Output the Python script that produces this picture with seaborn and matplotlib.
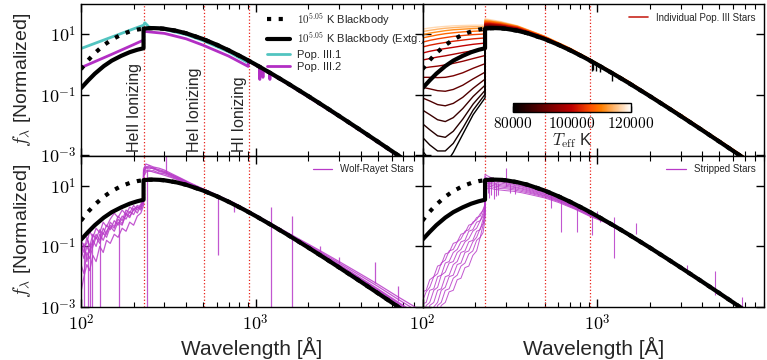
import numpy as np
import matplotlib
matplotlib.use("Agg")
import matplotlib.pyplot as plt
import seaborn as sns
from matplotlib.ticker import FuncFormatter, LogLocator, NullFormatter, NullLocator, FixedLocator
from matplotlib.lines import Line2D
from matplotlib.colors import Normalize
from matplotlib.cm import ScalarMappable

# ---------------- data: log10 of normalized f_lambda ----------------
BB_WAVE = [100, 110, 120, 135, 150, 170, 190, 210, 228, 245, 260, 280, 300, 350, 400, 500, 600,
           700, 850, 1000, 1250, 1500, 2000, 2500, 3000, 4000, 5000, 6000, 7000, 9000]
BB_LOG = [-0.151, 0.148, 0.381, 0.641, 0.825, 0.990, 1.093, 1.155, 1.187, 1.201, 1.204, 1.197,
          1.182, 1.117, 1.033, 0.843, 0.652, 0.472, 0.224, 0.001, -0.321, -0.594, -1.041,
          -1.399, -1.696, -2.170, -2.544, -2.851, -3.111, -3.539]
EXT_WAVE = [100, 110, 120, 135, 150, 170, 190, 210, 228]
EXT_LOG = [-0.78, -0.52, -0.30, -0.05, 0.13, 0.29, 0.41, 0.49, 0.54]

EDGE_WAVE = [228, 504, 912]
EDGE_TEXT = ["HeII Ionizing", "HeI Ionizing", "HI Ionizing"]

P31_WAVE = [100, 150, 200, 228, 232, 245, 300, 400, 500, 700, 905]
P31_LOG = [0.53, 0.91, 1.18, 1.30, 1.38, 1.24, 1.16, 0.99, 0.79, 0.42, 0.06]
P32_WAVE = [100, 150, 200, 228, 228, 245, 300, 400, 500, 700, 905, 912, 1000, 1052, 1055, 1058,
            1098, 1100, 1102, 1200, 1205, 1210, 1500, 3000, 6000, 9000]
P32_LOG = [-0.10, 0.34, 0.66, 0.81, 1.10, 1.08, 1.03, 0.85, 0.64, 0.28, -0.06, 0.12, -0.02,
           -0.10, -0.49, -0.10, -0.15, -0.42, -0.16, -0.29, -0.49, -0.30, -0.61, -1.71, -2.87, -3.56]

# Individual Pop III stars
PIII_TEFF = [80000, 82000, 84000, 86000, 88000, 90000, 92500, 95000, 97500, 100000, 102500,
             105000, 108000, 111000, 114000, 117000]
PIII_PRE_WAVE = [100, 110, 122, 135, 150, 170, 195, 228]
PIII_PRE_LOG = [
    [-2.85, -3.15, -3.35, -3.30, -2.90, -2.30, -1.65, -1.10],
    [-2.40, -2.65, -2.85, -2.85, -2.60, -2.10, -1.50, -0.98],
    [-1.95, -2.15, -2.35, -2.40, -2.20, -1.80, -1.30, -0.85],
    [-1.50, -1.65, -1.82, -1.88, -1.75, -1.45, -1.05, -0.68],
    [-1.10, -1.20, -1.32, -1.36, -1.28, -1.08, -0.78, -0.48],
    [-0.75, -0.80, -0.86, -0.88, -0.82, -0.68, -0.47, -0.25],
    [-0.42, -0.42, -0.43, -0.42, -0.37, -0.27, -0.12, 0.03],
    [-0.12, -0.08, -0.05, -0.01, 0.04, 0.11, 0.20, 0.30],
    [0.15, 0.20, 0.25, 0.29, 0.34, 0.40, 0.46, 0.52],
    [0.38, 0.44, 0.49, 0.53, 0.57, 0.62, 0.67, 0.71],
    [0.58, 0.64, 0.69, 0.73, 0.77, 0.81, 0.85, 0.88],
    [0.74, 0.80, 0.85, 0.89, 0.93, 0.96, 0.99, 1.01],
    [0.88, 0.93, 0.98, 1.02, 1.05, 1.08, 1.10, 1.12],
    [0.99, 1.04, 1.08, 1.12, 1.15, 1.17, 1.19, 1.20],
    [1.09, 1.13, 1.17, 1.20, 1.22, 1.24, 1.25, 1.25],
    [1.17, 1.21, 1.24, 1.26, 1.28, 1.29, 1.30, 1.30],
]
PIII_POST_WAVE = [228, 245, 280, 350, 500, 700, 912, 1500, 3000, 6000, 9000]
PIII_POST_LOG = [
    [1.21, 1.23, 1.22, 1.14, 0.86, 0.49, 0.15, -0.58, -1.68, -2.83, -3.52],
    [1.22, 1.24, 1.22, 1.14, 0.86, 0.49, 0.15, -0.58, -1.68, -2.83, -3.52],
    [1.23, 1.24, 1.23, 1.14, 0.86, 0.49, 0.15, -0.58, -1.68, -2.83, -3.52],
    [1.24, 1.25, 1.23, 1.15, 0.86, 0.49, 0.15, -0.58, -1.68, -2.83, -3.52],
    [1.25, 1.26, 1.24, 1.15, 0.87, 0.49, 0.15, -0.57, -1.67, -2.83, -3.52],
    [1.26, 1.27, 1.25, 1.16, 0.87, 0.50, 0.15, -0.57, -1.67, -2.83, -3.52],
    [1.28, 1.29, 1.26, 1.17, 0.88, 0.50, 0.15, -0.57, -1.67, -2.82, -3.51],
    [1.30, 1.30, 1.27, 1.18, 0.88, 0.50, 0.16, -0.57, -1.67, -2.82, -3.51],
    [1.32, 1.32, 1.29, 1.19, 0.89, 0.51, 0.16, -0.56, -1.66, -2.82, -3.51],
    [1.34, 1.34, 1.30, 1.20, 0.90, 0.51, 0.16, -0.56, -1.66, -2.82, -3.51],
    [1.36, 1.36, 1.32, 1.22, 0.90, 0.52, 0.16, -0.56, -1.66, -2.81, -3.50],
    [1.39, 1.38, 1.34, 1.23, 0.91, 0.52, 0.17, -0.55, -1.65, -2.81, -3.50],
    [1.42, 1.41, 1.36, 1.25, 0.92, 0.53, 0.17, -0.55, -1.65, -2.81, -3.50],
    [1.45, 1.43, 1.38, 1.26, 0.93, 0.53, 0.17, -0.55, -1.65, -2.80, -3.49],
    [1.48, 1.45, 1.40, 1.27, 0.93, 0.54, 0.18, -0.54, -1.64, -2.80, -3.49],
    [1.51, 1.48, 1.42, 1.28, 0.94, 0.54, 0.18, -0.54, -1.64, -2.80, -3.49],
]
PIII_ABS_WAVE = [931, 951, 982, 1040, 1213]
PIII_ABS_TOP = [0.10, 0.08, 0.05, -0.02, -0.28]
PIII_ABS_BOT = [-0.22, -0.18, -0.20, -0.25, -0.55]

# Wolf-Rayet stars
WR_WAVE = [100, 104, 108, 112, 117, 122, 128, 134, 140, 147, 155, 163, 172, 181, 190, 200, 210, 220, 228,
           228, 235, 245, 260, 280, 300, 330, 370, 420, 500, 600, 750, 900, 1100, 1400, 1800, 2300,
           3000, 4000, 5000, 6500, 8000, 9000]
WR_LOG = [
    [-0.9, -1.2, -0.7, -1.0, -0.6, -0.75, -0.45, -0.6, -0.3, -0.45, -0.15, -0.3, 0.0, -0.1, 0.15, 0.05, 0.3, 0.2, 0.45,
     1.44, 1.64, 1.60, 1.58, 1.53, 1.48, 1.37, 1.24, 1.08, 0.88, 0.68, 0.42, 0.17, -0.11, -0.46, -0.83, -1.19,
     -1.60, -2.05, -2.40, -2.83, -3.16, -3.35],
    [-1.3, -0.9, -1.5, -1.1, -0.8, -1.0, -0.6, -0.8, -0.5, -0.3, -0.4, -0.1, -0.25, 0.05, -0.05, 0.25, 0.1, 0.35, 0.5,
     1.50, 1.58, 1.66, 1.55, 1.50, 1.45, 1.35, 1.22, 1.07, 0.89, 0.69, 0.43, 0.18, -0.10, -0.45, -0.81, -1.16,
     -1.55, -1.98, -2.32, -2.74, -3.06, -3.25],
    [-1.6, -1.9, -1.2, -1.4, -1.0, -0.7, -0.9, -0.55, -0.7, -0.35, -0.5, -0.2, -0.3, 0.1, 0.0, 0.2, 0.3, 0.25, 0.55,
     1.35, 1.52, 1.48, 1.50, 1.42, 1.40, 1.30, 1.18, 1.04, 0.87, 0.67, 0.41, 0.16, -0.12, -0.47, -0.85, -1.22,
     -1.64, -2.10, -2.46, -2.90, -3.24, -3.44],
    [-0.8, -1.0, -0.9, -0.5, -0.7, -0.4, -0.55, -0.2, -0.35, -0.1, 0.1, -0.05, 0.2, 0.05, 0.3, 0.2, 0.35, 0.3, 0.6,
     1.55, 1.72, 1.68, 1.62, 1.58, 1.52, 1.40, 1.26, 1.10, 0.90, 0.70, 0.44, 0.19, -0.09, -0.43, -0.78, -1.12,
     -1.50, -1.92, -2.25, -2.66, -2.97, -3.15],
    [-2.5, -2.0, -1.6, -1.8, -1.3, -1.5, -1.0, -1.2, -0.8, -0.9, -0.6, -0.7, -0.4, -0.5, -0.2, -0.3, 0.0, 0.1, 0.35,
     1.30, 1.45, 1.50, 1.45, 1.40, 1.35, 1.27, 1.16, 1.02, 0.86, 0.66, 0.40, 0.16, -0.12, -0.48, -0.86, -1.24,
     -1.67, -2.13, -2.50, -2.94, -3.29, -3.48],
    [-1.1, -1.4, -1.0, -1.2, -0.9, -0.6, -0.8, -0.4, -0.6, -0.2, -0.35, 0.0, -0.15, 0.2, 0.1, 0.35, 0.2, 0.4, 0.5,
     1.45, 1.60, 1.55, 1.60, 1.47, 1.44, 1.33, 1.20, 1.06, 0.88, 0.68, 0.42, 0.17, -0.11, -0.46, -0.84, -1.20,
     -1.62, -2.07, -2.43, -2.86, -3.20, -3.40],
]
WR_SPIKE_WAVE = [104, 109, 113, 116, 129, 166, 240, 306, 610, 752, 1230, 1620, 2330, 3000, 4790, 6480]
WR_SPIKE_LOW = [-3.5, -3.5, -3.5, -3.5, -3.5, -3.5, -3.5, 1.45, -1.30, 0.15, -3.5, -3.5, -1.20, -1.55, -2.20, -2.80]
WR_SPIKE_HIGH = [-1.0, -0.8, -0.9, -0.6, -0.5, -0.1, 1.55, 2.10, 0.66, 0.40, 0.30, 0.00, -1.00, -1.35, -1.52, -2.30]

# Stripped stars
ST_WAVE = [100, 105, 110, 116, 122, 128, 135, 142, 150, 158, 166, 175, 184, 194, 204, 214, 222, 228,
           228, 235, 245, 260, 280, 300, 330, 370, 420, 500, 600, 750, 900, 1100, 1400, 1800, 2300,
           3000, 4000, 5000, 6500, 8000, 9000]
ST_LOG = [
    [-4.5, -4.1, -3.95, -3.5, -3.35, -2.95, -2.85, -2.5, -2.45, -2.1, -2.05, -1.7, -1.65, -1.3, -1.15, -0.7, -0.55, -0.1,
     0.95, 0.90, 0.92, 0.88, 0.86, 0.84, 0.82, 0.77, 0.70, 0.60, 0.45, 0.22, 0.00, -0.20, -0.53, -0.91, -1.30,
     -1.73, -2.20, -2.58, -3.02, -3.37, -3.57],
    [-4.0, -3.95, -3.5, -3.4, -2.95, -2.85, -2.45, -2.4, -2.05, -1.95, -1.65, -1.55, -1.25, -1.15, -0.8, -0.7, -0.3, 0.0,
     1.00, 0.96, 0.98, 0.94, 0.91, 0.90, 0.87, 0.81, 0.74, 0.63, 0.48, 0.24, 0.02, -0.19, -0.52, -0.90, -1.29,
     -1.72, -2.20, -2.57, -3.01, -3.36, -3.56],
    [-3.9, -3.55, -3.4, -3.0, -2.85, -2.45, -2.35, -2.0, -1.95, -1.6, -1.55, -1.2, -1.15, -0.85, -0.7, -0.4, -0.25, 0.08,
     1.05, 1.02, 1.03, 0.99, 0.96, 0.94, 0.91, 0.85, 0.77, 0.66, 0.50, 0.26, 0.04, -0.18, -0.51, -0.90, -1.29,
     -1.72, -2.19, -2.57, -3.01, -3.36, -3.56],
    [-3.45, -3.4, -2.95, -2.85, -2.45, -2.4, -2.0, -1.95, -1.6, -1.5, -1.2, -1.15, -0.85, -0.8, -0.5, -0.45, -0.1, 0.15,
     1.10, 1.07, 1.08, 1.04, 1.00, 0.98, 0.95, 0.89, 0.80, 0.68, 0.52, 0.28, 0.05, -0.17, -0.51, -0.89, -1.28,
     -1.71, -2.19, -2.56, -3.00, -3.35, -3.56],
    [-3.3, -2.95, -2.85, -2.45, -2.35, -1.95, -1.85, -1.55, -1.5, -1.2, -1.1, -0.85, -0.75, -0.5, -0.4, -0.15, 0.0, 0.22,
     1.15, 1.12, 1.12, 1.08, 1.04, 1.02, 0.98, 0.92, 0.83, 0.71, 0.54, 0.30, 0.07, -0.16, -0.50, -0.89, -1.28,
     -1.71, -2.18, -2.56, -3.00, -3.35, -3.55],
    [-2.9, -2.85, -2.45, -2.4, -2.0, -1.95, -1.55, -1.5, -1.2, -1.1, -0.85, -0.8, -0.5, -0.45, -0.2, -0.15, 0.1, 0.28,
     1.22, 1.18, 1.17, 1.13, 1.09, 1.06, 1.02, 0.96, 0.86, 0.73, 0.56, 0.31, 0.08, -0.15, -0.50, -0.88, -1.27,
     -1.71, -2.18, -2.55, -3.00, -3.35, -3.55],
    [-2.8, -2.5, -2.35, -2.0, -1.9, -1.55, -1.45, -1.15, -1.1, -0.85, -0.75, -0.5, -0.45, -0.2, -0.12, 0.08, 0.18, 0.34,
     1.30, 1.25, 1.22, 1.17, 1.13, 1.10, 1.05, 0.99, 0.89, 0.76, 0.58, 0.33, 0.09, -0.15, -0.50, -0.88, -1.27,
     -1.70, -2.18, -2.55, -2.99, -3.34, -3.55],
    [-2.5, -2.45, -2.1, -2.0, -1.65, -1.6, -1.25, -1.2, -0.9, -0.85, -0.6, -0.55, -0.3, -0.25, -0.05, 0.0, 0.22, 0.40,
     1.38, 1.33, 1.28, 1.22, 1.17, 1.13, 1.08, 1.02, 0.92, 0.78, 0.60, 0.35, 0.10, -0.14, -0.50, -0.88, -1.27,
     -1.70, -2.18, -2.55, -2.99, -3.34, -3.55],
]
ST_SPIKE_WAVE = [236, 241, 248, 255, 262, 270, 300, 318, 340, 546, 624, 764, 930, 1000, 1040, 1240, 1660,
                 3250, 4750, 6700]
ST_SPIKE_LOW = [0.75, 0.60, 0.70, 0.55, 0.65, 0.70, 1.00, 0.75, 0.72, 0.26, -0.52, -0.52, -0.63, 0.00, -0.19,
                -1.37, -0.60, -1.85, -2.60, -3.00]
ST_SPIKE_HIGH = [1.25, 1.30, 1.15, 1.20, 1.10, 1.10, 1.60, 1.05, 1.00, 0.75, 0.60, 0.33, 0.12, 0.18, 0.00,
                 -0.03, -0.23, -1.63, -1.82, -2.66]

# ---------------- style ----------------
CYAN = "#52c4c0"
MAG = "#b22ec4"
MAG2 = "#b83ac8"
RED = "#e8231b"

sns.set_style("ticks")
plt.rcParams.update({
    "font.family": ["Liberation Sans Narrow", "Liberation Sans", "DejaVu Sans"],
    "mathtext.fontset": "cm",
    "xtick.direction": "in", "ytick.direction": "in",
    "xtick.top": True, "ytick.right": True,
    "xtick.major.size": 6, "xtick.minor.size": 3.5,
    "ytick.major.size": 6, "ytick.minor.size": 3.5,
    "xtick.major.width": 1.0, "xtick.minor.width": 0.8,
    "ytick.major.width": 1.0,
    "axes.linewidth": 1.0, "axes.edgecolor": "black",
    "xtick.color": "black", "ytick.color": "black",
})


def draw(ax, wave, logv, **kw):
    sns.lineplot(x=np.asarray(wave, dtype=float), y=10.0 ** np.asarray(logv, dtype=float), ax=ax,
                 estimator=None, sort=False, legend=False, **kw)


fig = plt.figure(figsize=(7.67, 3.6), dpi=100)
axs = fig.subplots(2, 2, sharex=True, sharey=True)
fig.subplots_adjust(left=81 / 767, right=764 / 767, top=1 - 4 / 360, bottom=1 - 307 / 360,
                    wspace=0, hspace=0)

for ax in axs.flat:
    ax.set_xscale("log")
    ax.set_yscale("log")

sci = FuncFormatter(lambda v, p: r"$10^{%d}$" % int(round(np.log10(v))))

ext_wave = EXT_WAVE + BB_WAVE[BB_WAVE.index(228):]
ext_log = EXT_LOG + BB_LOG[BB_WAVE.index(228):]

for ax in axs.flat:
    for w in EDGE_WAVE:
        ax.axvline(w, color=RED, ls=":", lw=0.9, zorder=1)

# --- top left
ax = axs[0, 0]
draw(ax, P31_WAVE, P31_LOG, color=CYAN, lw=2.0)
draw(ax, P32_WAVE, P32_LOG, color=MAG, lw=2.0)
for w, t in zip(EDGE_WAVE, EDGE_TEXT):
    ax.text(w * 0.975, 1.3e-3, t, rotation=90, ha="right", va="bottom", fontsize=11.5)

# --- top right
ax = axs[0, 1]
norm = Normalize(80000, 120000)
cmap = plt.get_cmap("gist_heat")
for i in range(len(PIII_TEFF) - 1, -1, -1):
    c = cmap(norm(PIII_TEFF[i]))
    draw(ax, PIII_PRE_WAVE + PIII_POST_WAVE, PIII_PRE_LOG[i] + PIII_POST_LOG[i], color=c, lw=1.0)
ax.vlines(PIII_ABS_WAVE, 10.0 ** np.array(PIII_ABS_BOT), 10.0 ** np.array(PIII_ABS_TOP),
          color="black", lw=1.0, zorder=3)

# --- bottom left
ax = axs[1, 0]
for row in WR_LOG:
    draw(ax, WR_WAVE, row, color=MAG2, lw=0.9, alpha=0.85)
ax.vlines(WR_SPIKE_WAVE, 10.0 ** np.array(WR_SPIKE_LOW), 10.0 ** np.array(WR_SPIKE_HIGH),
          color=MAG2, lw=0.9, alpha=0.85)

# --- bottom right
ax = axs[1, 1]
for row in ST_LOG:
    draw(ax, ST_WAVE, row, color=MAG2, lw=0.7, alpha=0.85)
ax.vlines(ST_SPIKE_WAVE, 10.0 ** np.array(ST_SPIKE_LOW), 10.0 ** np.array(ST_SPIKE_HIGH),
          color=MAG2, lw=0.8, alpha=0.85)

# blackbody curves on every panel
for ax in axs.flat:
    draw(ax, BB_WAVE, BB_LOG, color="black", lw=3.0, ls=(0, (1, 1.8)), zorder=5)
    draw(ax, ext_wave, ext_log, color="black", lw=3.0, zorder=6)

for ax in axs.flat:
    ax.set_xlim(100, 9000)
    ax.set_ylim(1e-3, 1e2)
    ax.yaxis.set_major_locator(FixedLocator([1e-3, 1e-1, 1e1]))
    ax.yaxis.set_minor_locator(NullLocator())
    ax.xaxis.set_major_locator(LogLocator(base=10))
    ax.xaxis.set_minor_locator(LogLocator(base=10, subs=np.arange(2, 10)))
    ax.xaxis.set_minor_formatter(NullFormatter())
    ax.yaxis.set_major_formatter(sci)
    ax.xaxis.set_major_formatter(sci)
    ax.tick_params(which="both", top=True, right=True, labelsize=13)
    ax.tick_params(axis="x", pad=5)
    ax.set_xlabel("")
    ax.set_ylabel("")

for ax in axs[0, :]:
    ax.tick_params(labelbottom=False)
for ax in axs[:, 1]:
    ax.tick_params(labelleft=False)
for ax in axs[:, 0]:
    ax.set_ylabel(r"$f_\lambda$ [Normalized]", fontsize=14, labelpad=5)
for ax in axs[1, :]:
    ax.set_xlabel("Wavelength [Å]", fontsize=15, labelpad=2)

# legends
h_top = [Line2D([], [], color="black", lw=3, ls=(0, (1, 1.8))),
         Line2D([], [], color="black", lw=3),
         Line2D([], [], color=CYAN, lw=2),
         Line2D([], [], color=MAG, lw=2)]
l_top = [r"$10^{5.05}$ K Blackbody", r"$10^{5.05}$ K Blackbody (Extg.)", "Pop. III.1", "Pop. III.2"]
axs[0, 0].legend(h_top, l_top, loc="upper left", bbox_to_anchor=(0.545, 0.955), frameon=False,
                 borderaxespad=0, borderpad=0, handlelength=2.1, labelspacing=0.22, handletextpad=0.6,
                 prop={"family": ["Liberation Sans", "DejaVu Sans"], "size": 8})
axs[0, 1].legend([Line2D([], [], color="#c8281e", lw=1.2)], ["Individual Pop. III Stars"],
                 loc="upper right", frameon=False,
                 prop={"family": ["Liberation Sans", "DejaVu Sans"], "size": 7})
axs[1, 0].legend([Line2D([], [], color=MAG2, lw=0.9)], ["Wolf-Rayet Stars"],
                 loc="upper right", frameon=False,
                 prop={"family": ["Liberation Sans", "DejaVu Sans"], "size": 7})
axs[1, 1].legend([Line2D([], [], color=MAG2, lw=0.9)], ["Stripped Stars"],
                 loc="upper right", frameon=False,
                 prop={"family": ["Liberation Sans", "DejaVu Sans"], "size": 7})

# colorbar
cax = fig.add_axes([513 / 767, 1 - 112 / 360, 118 / 767, 9 / 360])
cb = fig.colorbar(ScalarMappable(norm=norm, cmap=cmap), cax=cax, orientation="horizontal",
                  ticks=[80000, 100000, 120000])
cb.ax.set_xticklabels([r"$80000$", r"$100000$", r"$120000$"])
cb.ax.tick_params(direction="in", length=4, width=1, top=False, bottom=True, labelsize=11, pad=3)
cb.ax.minorticks_off()
cb.outline.set_linewidth(1.0)
cb.set_label(r"$T_{\rm eff}$ K", fontsize=12, labelpad=0)

fig.savefig("out.png", dpi=100)
